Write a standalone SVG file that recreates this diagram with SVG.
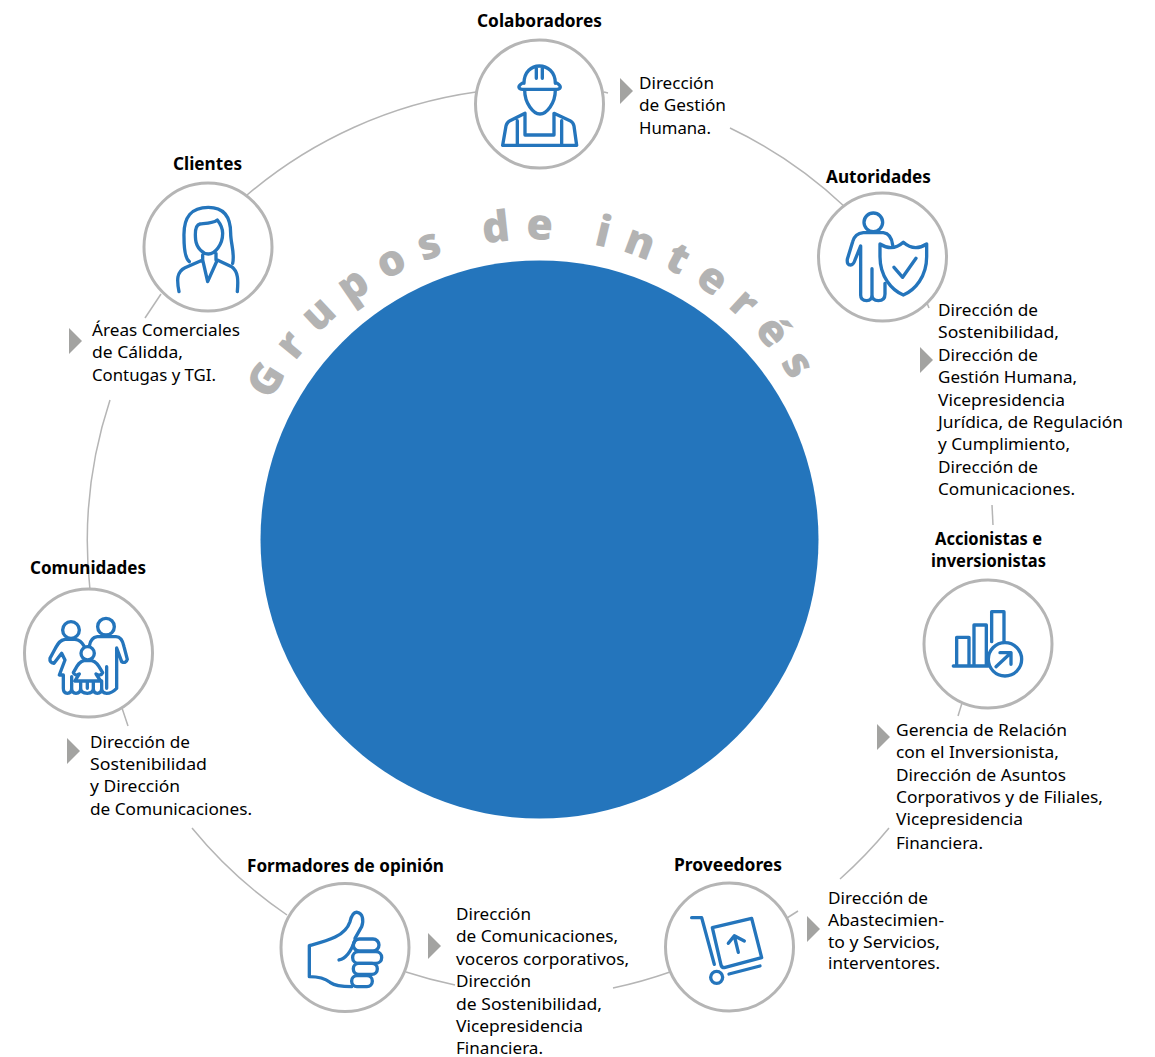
<svg xmlns="http://www.w3.org/2000/svg" width="1155" height="1057" viewBox="0 0 1155 1057">
<style>
.ring{fill:#fff;stroke:#b5b5b5;stroke-width:3}
.conn{fill:none;stroke:#b5b5b5;stroke-width:1.5}
.ico{fill:none;stroke:#2475bc;stroke-width:10;stroke-linecap:round;stroke-linejoin:round}
.t{font-family:"Noto Sans","Open Sans",sans-serif;font-size:17px;fill:#000}
.h{font-family:"Noto Sans","Open Sans",sans-serif;font-size:17px;font-weight:700;fill:#000}
.tri{fill:#a3a3a1}
.arc{font-family:"Open Sans",sans-serif;font-weight:800;font-size:43px;fill:#b3b3b3;letter-spacing:14.95px}
</style>
<defs><path id="arcp" d="M270.700 401.400 A300 300 0 0 1 808.900 412.700"/></defs>
<g id="connectors">
<path class="conn" d="M247 195 A450 450 0 0 1 476 92"/>
<path class="conn" d="M604 92 L608 93"/>
<path class="conn" d="M730 128 A450 450 0 0 1 845 207"/>
<path class="conn" d="M927 303 L929 308"/>
<path class="conn" d="M992 505 L993 525"/>
<path class="conn" d="M962 703 L958 716"/>
<path class="conn" d="M889 828 A450 450 0 0 1 840 879"/>
<path class="conn" d="M798 911 L787 918"/>
<path class="conn" d="M670 972 A450 450 0 0 1 613 988"/>
<path class="conn" d="M455 985 A450 450 0 0 1 406 972"/>
<path class="conn" d="M287 915 A450 450 0 0 1 192 828"/>
<path class="conn" d="M122 708 L128 726"/>
<path class="conn" d="M90 590 A450 450 0 0 1 110 400"/>
<path class="conn" d="M161 294 L145 318"/>
</g>
<g id="centro">
<circle cx="539.500" cy="539.500" r="279" fill="#2475bc"/>
<text class="arc"><textPath href="#arcp" startOffset="0">Grupos de interés</textPath></text>
</g>
<g id="colaboradores">
<circle class="ring" cx="539.500" cy="104" r="64"/>
<g transform="translate(460,0) scale(.3333)"><path class="ico" d="M192 250C192 215 215 198 238 198C262 198 286 215 286 250M229 205V235M247 205V235M186 250C172 258 175 268 188 268H290C303 268 305 258 292 250M194 270C194 310 220 342 240 342C260 342 286 310 286 270M128 436H350M128 436L138 378Q140 368 150 362L195 340V405H282V340L330 362Q340 368 342 378L350 436M172 436V362M305 436V362"/></g>
<text class="h" x="477" y="26.500" textLength="125" lengthAdjust="spacingAndGlyphs">Colaboradores</text>
<path class="tri" d="M620 78L633 91L620 104Z"/>
<text class="t" x="639" y="89" textLength="75" lengthAdjust="spacingAndGlyphs">Dirección</text>
<text class="t" x="639" y="111" textLength="87" lengthAdjust="spacingAndGlyphs">de Gestión</text>
<text class="t" x="639" y="134" textLength="72" lengthAdjust="spacingAndGlyphs">Humana.</text>
</g>
<g id="autoridades">
<circle class="ring" cx="882.500" cy="257" r="64"/>
<g transform="translate(800,170) scale(.3333)"><circle class="ico" cx="220" cy="157" r="28"/><path class="ico" d="M278 225C275 200 265 190 250 188H190C170 190 162 200 158 215L142 268Q140 285 152 285Q160 285 165 270L182 228V375Q182 392 200 392Q216 392 216 375V296M216 375Q216 392 235 392Q255 392 255 372V340"/><path class="ico" d="M240 222C265 238 290 235 310 217C330 235 355 238 380 222V260C380 320 345 360 310 375C275 360 240 320 240 260ZM282 292L308 322L348 265"/></g>
<text class="h" x="826" y="182.500" textLength="105" lengthAdjust="spacingAndGlyphs">Autoridades</text>
<path class="tri" d="M920 347L933 360L920 373Z"/>
<text class="t" x="938" y="316" textLength="100" lengthAdjust="spacingAndGlyphs">Dirección de</text>
<text class="t" x="938" y="338" textLength="121" lengthAdjust="spacingAndGlyphs">Sostenibilidad,</text>
<text class="t" x="938" y="361" textLength="100" lengthAdjust="spacingAndGlyphs">Dirección de</text>
<text class="t" x="938" y="383" textLength="139" lengthAdjust="spacingAndGlyphs">Gestión Humana,</text>
<text class="t" x="938" y="406" textLength="127" lengthAdjust="spacingAndGlyphs">Vicepresidencia</text>
<text class="t" x="938" y="428" textLength="185" lengthAdjust="spacingAndGlyphs">Jurídica, de Regulación</text>
<text class="t" x="938" y="450" textLength="132" lengthAdjust="spacingAndGlyphs">y Cumplimiento,</text>
<text class="t" x="938" y="473" textLength="100" lengthAdjust="spacingAndGlyphs">Dirección de</text>
<text class="t" x="938" y="495" textLength="137" lengthAdjust="spacingAndGlyphs">Comunicaciones.</text>
</g>
<g id="accionistas">
<circle class="ring" cx="988" cy="644" r="64"/>
<g transform="translate(910,570) scale(.3333)"><path class="ico" d="M130 288H235M140 288V202H177V288M192 288V165H229V288M245 215V125H282V215"/><circle class="ico" cx="285" cy="268" r="50"/><path class="ico" d="M258 290L303 248M270 248H303V283"/></g>
<text class="h" x="935" y="545" textLength="107" lengthAdjust="spacingAndGlyphs">Accionistas e</text>
<text class="h" x="931" y="566.500" textLength="115" lengthAdjust="spacingAndGlyphs">inversionistas</text>
<path class="tri" d="M877 724L890 737L877 750Z"/>
<text class="t" x="896" y="736" textLength="171" lengthAdjust="spacingAndGlyphs">Gerencia de Relación</text>
<text class="t" x="896" y="758" textLength="163" lengthAdjust="spacingAndGlyphs">con el Inversionista,</text>
<text class="t" x="896" y="781" textLength="170" lengthAdjust="spacingAndGlyphs">Dirección de Asuntos</text>
<text class="t" x="896" y="803" textLength="207" lengthAdjust="spacingAndGlyphs">Corporativos y de Filiales,</text>
<text class="t" x="896" y="825" textLength="127" lengthAdjust="spacingAndGlyphs">Vicepresidencia</text>
<text class="t" x="896" y="849" textLength="87" lengthAdjust="spacingAndGlyphs">Financiera.</text>
</g>
<g id="proveedores">
<circle class="ring" cx="729.500" cy="947" r="64"/>
<g transform="translate(655,875) scale(.3333)"><path class="ico" d="M110 128H140L178 268M222 297L315 273M172 158L290 130L320 248L208 278Q200 278 198 270ZM250 232L238 183M220 205L238 182L268 198"/><circle class="ico" cx="185" cy="307" r="18"/></g>
<text class="h" x="674" y="870.500" textLength="108" lengthAdjust="spacingAndGlyphs">Proveedores</text>
<path class="tri" d="M807 916L820 929L807 942Z"/>
<text class="t" x="828" y="904" textLength="100" lengthAdjust="spacingAndGlyphs">Dirección de</text>
<text class="t" x="828" y="926" textLength="116" lengthAdjust="spacingAndGlyphs">Abastecimien-</text>
<text class="t" x="828" y="948" textLength="112" lengthAdjust="spacingAndGlyphs">to y Servicios,</text>
<text class="t" x="828" y="969" textLength="112" lengthAdjust="spacingAndGlyphs">interventores.</text>
</g>
<g id="formadores">
<circle class="ring" cx="345" cy="947.500" r="64"/>
<g transform="translate(270,875) scale(.3333)"><path class="ico" d="M118 212V305C150 305 165 310 180 322C195 333 215 335 245 335M118 212C170 198 225 185 240 140C245 120 252 110 262 112C278 115 282 135 275 155L255 190M207 255C230 250 245 225 255 195"/><rect class="ico" x="250" y="192" width="77" height="36" rx="18"/><rect class="ico" x="248" y="230" width="87" height="35" rx="17"/><rect class="ico" x="250" y="265" width="72" height="33" rx="16"/><rect class="ico" x="245" y="302" width="62" height="33" rx="16"/></g>
<text class="h" x="247" y="871.500" textLength="197" lengthAdjust="spacingAndGlyphs">Formadores de opinión</text>
<path class="tri" d="M428 933L441 946L428 959Z"/>
<text class="t" x="456" y="920" textLength="75" lengthAdjust="spacingAndGlyphs">Dirección</text>
<text class="t" x="456" y="942" textLength="162" lengthAdjust="spacingAndGlyphs">de Comunicaciones,</text>
<text class="t" x="456" y="965" textLength="173" lengthAdjust="spacingAndGlyphs">voceros corporativos,</text>
<text class="t" x="456" y="987" textLength="75" lengthAdjust="spacingAndGlyphs">Dirección</text>
<text class="t" x="456" y="1010" textLength="146" lengthAdjust="spacingAndGlyphs">de Sostenibilidad,</text>
<text class="t" x="456" y="1032" textLength="127" lengthAdjust="spacingAndGlyphs">Vicepresidencia</text>
<text class="t" x="456" y="1054" textLength="87" lengthAdjust="spacingAndGlyphs">Financiera.</text>
</g>
<g id="comunidades">
<circle class="ring" cx="88.500" cy="653" r="64"/>
<g transform="translate(10,580) scale(.3333)"><circle class="ico" cx="183" cy="150" r="25"/><circle class="ico" cx="288" cy="140" r="25"/><circle class="ico" cx="233" cy="220" r="20"/><path class="ico" d="M165 178C148 180 142 195 135 207L120 235Q118 248 132 250L155 220L165 240L148 285H160V325Q160 340 172 340Q185 340 185 325V290M185 325Q185 340 198 340Q212 340 212 325V303M212 325Q212 340 232 340Q250 340 250 325V303M232 303V325M250 325Q250 340 262 340Q275 340 275 325V303M275 325Q275 340 290 340Q305 340 320 325V204L335 245Q348 252 352 238L342 200C338 180 330 170 318 170H262C248 172 240 185 238 198M165 178H195C210 180 218 190 222 198M290 260V325M222 242C205 245 200 262 190 278Q195 290 208 282L195 303H272L258 282Q272 290 278 278C268 262 262 245 245 242Z"/></g>
<text class="h" x="30" y="573.500" textLength="116" lengthAdjust="spacingAndGlyphs">Comunidades</text>
<path class="tri" d="M67 738L80 751L67 764Z"/>
<text class="t" x="90" y="748" textLength="100" lengthAdjust="spacingAndGlyphs">Dirección de</text>
<text class="t" x="90" y="770" textLength="117" lengthAdjust="spacingAndGlyphs">Sostenibilidad</text>
<text class="t" x="90" y="792" textLength="90" lengthAdjust="spacingAndGlyphs">y Dirección</text>
<text class="t" x="90" y="815" textLength="162" lengthAdjust="spacingAndGlyphs">de Comunicaciones.</text>
</g>
<g id="clientes">
<circle class="ring" cx="208" cy="247" r="64"/>
<g transform="translate(130,170) scale(.3333)"><path class="ico" d="M178 275C165 265 162 240 162 200C160 140 185 112 235 112C285 112 302 145 302 190C302 220 315 250 308 280M262 150C250 160 230 160 210 162C195 165 195 190 197 210C200 235 220 252 235 252C255 252 278 225 278 190C278 175 270 160 262 150ZM147 365C140 330 140 305 165 293L218 270L233 335L262 270L305 290C325 305 325 330 322 365M218 255V270M258 250V270"/></g>
<text class="h" x="173" y="169.500" textLength="69" lengthAdjust="spacingAndGlyphs">Clientes</text>
<path class="tri" d="M69 328L82 341L69 354Z"/>
<text class="t" x="92" y="336" textLength="148" lengthAdjust="spacingAndGlyphs">Áreas Comerciales</text>
<text class="t" x="92" y="358" textLength="91" lengthAdjust="spacingAndGlyphs">de Cálidda,</text>
<text class="t" x="92" y="381" textLength="124" lengthAdjust="spacingAndGlyphs">Contugas y TGI.</text>
</g>
</svg>
